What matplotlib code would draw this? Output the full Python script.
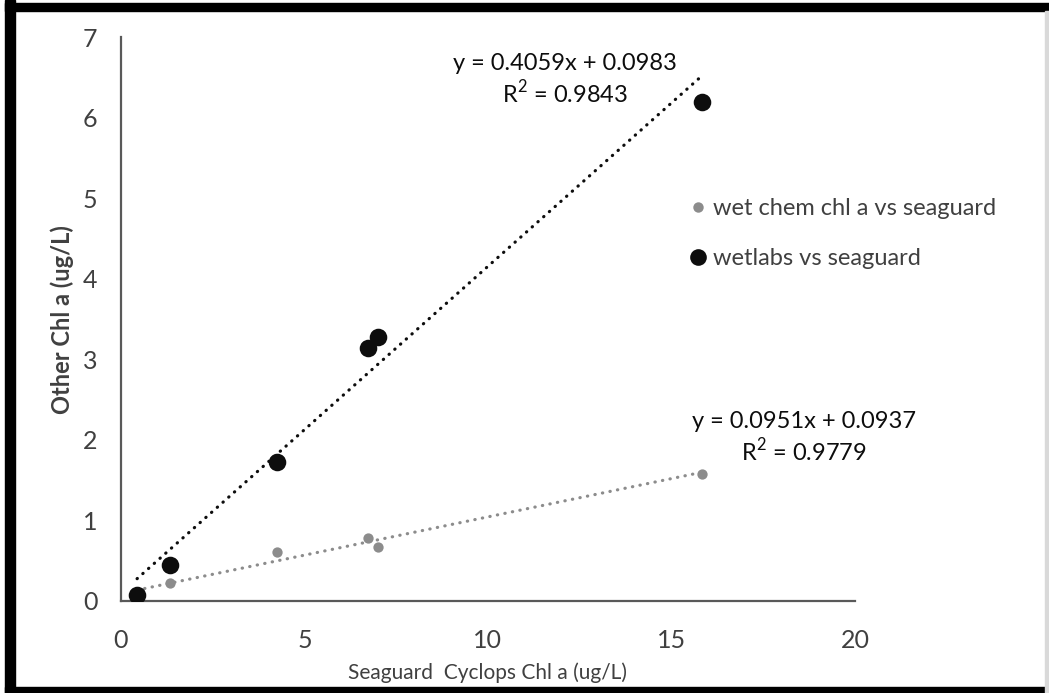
import numpy as np
import matplotlib
matplotlib.use('Agg')
import matplotlib.pyplot as plt
from matplotlib.patches import Rectangle
from matplotlib.lines import Line2D

plt.rcParams['font.family'] = ['Lato', 'DejaVu Sans']
plt.rcParams['mathtext.fontset'] = 'custom'
plt.rcParams['mathtext.rm'] = 'Lato'

# seaguard cyclops readings (x) shared by both series
seaguard = [0.44, 1.33, 4.25, 6.73, 7.0, 15.83]
wet_chem = [0.09, 0.22, 0.61, 0.78, 0.67, 1.58]
wetlabs = [0.07, 0.45, 1.73, 3.14, 3.28, 6.20]

# trendline coefficients as printed on the chart
fit_wetlabs = (0.4059, 0.0983, 0.9843)
fit_wetchem = (0.0951, 0.0937, 0.9779)

x_ticks = [0, 5, 10, 15, 20]
y_ticks = [0, 1, 2, 3, 4, 5, 6, 7]

gray = '#8c8c8c'
black = '#0d0d0d'
axis_col = '#595959'
text_col = '#404040'

fig = plt.figure(figsize=(10.49, 6.93), dpi=100)
ax = fig.add_axes([0.1153, 0.1328, 0.6997, 0.8131])

xfit = np.array([min(seaguard), max(seaguard)])
ax.plot(xfit, fit_wetchem[0] * xfit + fit_wetchem[1], color=gray, lw=2.3,
        linestyle=(0, (0.1, 2.3)), dash_capstyle='round', zorder=2)
ax.plot(xfit, fit_wetlabs[0] * xfit + fit_wetlabs[1], color=black, lw=2.3,
        linestyle=(0, (0.1, 2.3)), dash_capstyle='round', zorder=2)

ax.scatter(seaguard, wet_chem, s=55, color=gray, zorder=3, linewidths=0)
ax.scatter(seaguard, wetlabs, s=160, color=black, zorder=4, linewidths=0)

ax.set_xlim(0, 20)
ax.set_ylim(0, 7)
ax.set_xticks(x_ticks)
ax.set_yticks(y_ticks)
ax.tick_params(length=0, labelsize=18, colors=text_col)
ax.tick_params(axis='y', pad=17)
ax.tick_params(axis='x', pad=20)
for s in ['top', 'right']:
    ax.spines[s].set_visible(False)
for s in ['left', 'bottom']:
    ax.spines[s].set_color(axis_col)
    ax.spines[s].set_linewidth(1.6)

ax.set_xlabel('Seaguard  Cyclops Chl a (ug/L)', fontsize=15, color=text_col, labelpad=8)
ax.set_ylabel('Other Chl a (ug/L)', fontsize=17, fontweight='bold', color=text_col, labelpad=6)

ax.text(12.1, 6.47, 'y = %.4fx + %.4f\nR$^{2}$ = %.4f' % fit_wetlabs, fontsize=17,
        color=black, ha='center', va='center', linespacing=1.2)
ax.text(18.6, 2.03, 'y = %.4fx + %.4f\nR$^{2}$ = %.4f' % fit_wetchem, fontsize=17,
        color=black, ha='center', va='center', linespacing=1.2)

handles = [Line2D([], [], marker='o', ls='', color=gray, markersize=7.5, markeredgewidth=0),
           Line2D([], [], marker='o', ls='', color=black, markersize=12, markeredgewidth=0)]
ax.legend(handles, ['wet chem chl a vs seaguard', 'wetlabs vs seaguard'],
          loc='center left', bbox_to_anchor=(0.767, 0.652), frameon=False,
          fontsize=17, handletextpad=0.05, labelspacing=1.25, handlelength=1.2,
          borderaxespad=0, borderpad=0, labelcolor=text_col)

# black frame around the picture
fig.patches.append(Rectangle((0.005, 0.0), 0.009, 1.0, transform=fig.transFigure,
                             color='black', zorder=10))
fig.patches.append(Rectangle((0.005, 0.984), 0.995, 0.012, transform=fig.transFigure,
                             color='black', zorder=10))
fig.patches.append(Rectangle((0.005, 0.0), 0.995, 0.0087, transform=fig.transFigure,
                             color='black', zorder=10))
fig.patches.append(Rectangle((0.996, 0.0), 0.004, 0.984, transform=fig.transFigure,
                             color='#d9d9d9', zorder=10))

fig.savefig('out.png', dpi=100)
